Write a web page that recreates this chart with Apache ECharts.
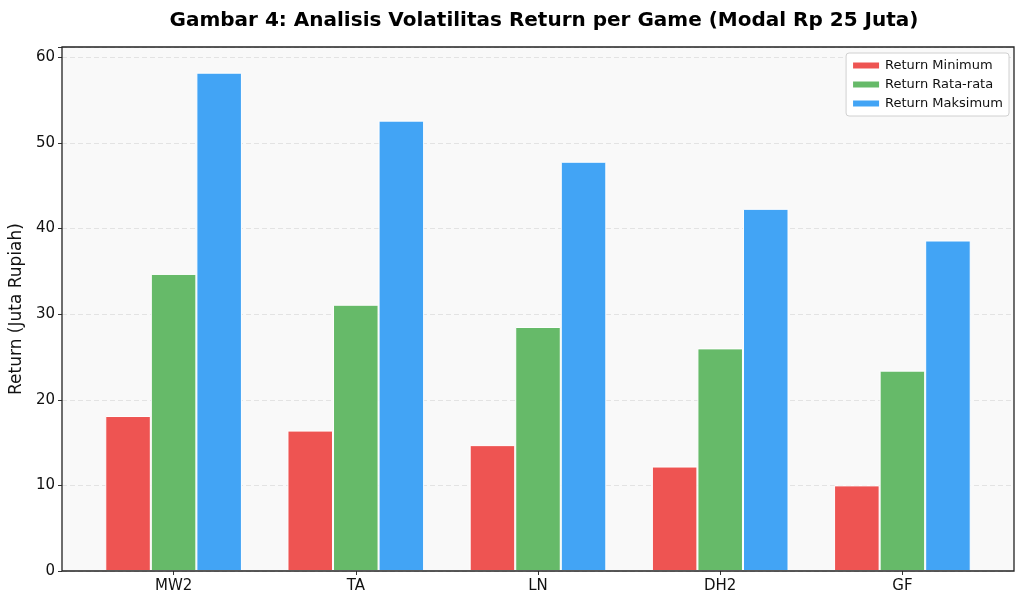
<!DOCTYPE html>
<html>
<head>
<meta charset="utf-8">
<script src="https://cdn.jsdelivr.net/npm/echarts@6/dist/echarts.min.js"></script>
<style>
  html, body { margin: 0; padding: 0; background: #fff; }
  #chart { width: 1024px; height: 608px; }
</style>
</head>
<body>
<div id="chart"></div>
<script>
const games = ['MW2', 'TA', 'LN', 'DH2', 'GF']
const returnMin = [18.1, 16.4, 14.7, 12.2, 10.0]
const returnAvg = [34.7, 31.1, 28.5, 26.0, 23.4]
const returnMax = [58.2, 52.6, 47.8, 42.3, 38.6]
const yTicks = [0, 10, 20, 30, 40, 50, 60]

const font = 'DejaVu Sans'
const chart = echarts.init(document.getElementById('chart'))

const barStyle = (color) => ({
  color: color,
  borderColor: '#ffffff',
  borderWidth: 1,
})

chart.setOption({
  animation: false,
  textStyle: { fontFamily: font },
  title: {
    text: 'Gambar 4: Analisis Volatilitas Return per Game (Modal Rp 25 Juta)',
    left: 539,
    top: 6,
    textAlign: 'center',
    textStyle: { fontFamily: font, fontSize: 20, fontWeight: 'bold', color: '#000' },
  },
  legend: {
    orient: 'vertical',
    right: 15,
    top: 53,
    icon: 'rect',
    itemWidth: 28,
    itemHeight: 8,
    itemGap: 6,
    padding: [6, 6, 6, 5],
    backgroundColor: '#ffffff',
    borderColor: '#d0d0d0',
    borderWidth: 1,
    borderRadius: 3,
    textStyle: { fontFamily: font, fontSize: 13, color: '#111' },
    data: ['Return Minimum', 'Return Rata-rata', 'Return Maksimum'],
  },
  grid: [
    { left: 62, right: 10, top: 47, bottom: 37, show: true,
      backgroundColor: '#f9f9f9', borderWidth: 0 },
    { left: 82.5, right: 30.5, top: 47, bottom: 37 },
  ],
  graphic: [
    {
      type: 'rect',
      z: 100,
      silent: true,
      shape: { x: 62, y: 47, width: 952, height: 524 },
      style: { fill: 'none', stroke: '#222', lineWidth: 1.3 },
    },
  ],
  xAxis: [
    { gridIndex: 0, type: 'value', min: 0, max: 1, show: false },
    {
      gridIndex: 1,
      type: 'category',
      data: games,
      axisLine: { show: false },
      axisTick: { show: true, alignWithLabel: true, length: 4, lineStyle: { color: '#333' } },
      axisLabel: { fontFamily: font, fontSize: 15, color: '#111', margin: 8 },
    },
  ],
  yAxis: [
    {
      gridIndex: 0,
      type: 'value',
      min: 0,
      max: 61.2,
      interval: 10,
      name: 'Return (Juta Rupiah)',
      nameLocation: 'middle',
      nameGap: 35,
      nameRotate: 90,
      nameTextStyle: { fontFamily: font, fontSize: 17, color: '#111' },
      axisLine: { show: false },
      axisTick: { show: true, length: 4, lineStyle: { color: '#333' } },
      axisLabel: {
        fontFamily: font, fontSize: 15, color: '#111', margin: 7,
        formatter: (v) => (yTicks.includes(v) ? String(v) : ''),
      },
      splitLine: { show: true, lineStyle: { color: '#dddddd', type: [5, 3], width: 0.8 } },
    },
    { gridIndex: 1, type: 'value', min: 0, max: 61.2, show: false },
  ],
  series: [
    { name: 'Return Minimum', type: 'bar', xAxisIndex: 1, yAxisIndex: 1,
      data: returnMin, barGap: '0%', barCategoryGap: '25%', itemStyle: barStyle('#ee5452') },
    { name: 'Return Rata-rata', type: 'bar', xAxisIndex: 1, yAxisIndex: 1,
      data: returnAvg, itemStyle: barStyle('#66ba69') },
    { name: 'Return Maksimum', type: 'bar', xAxisIndex: 1, yAxisIndex: 1,
      data: returnMax, itemStyle: barStyle('#42a4f5') },
  ],
})
</script>
</body>
</html>
